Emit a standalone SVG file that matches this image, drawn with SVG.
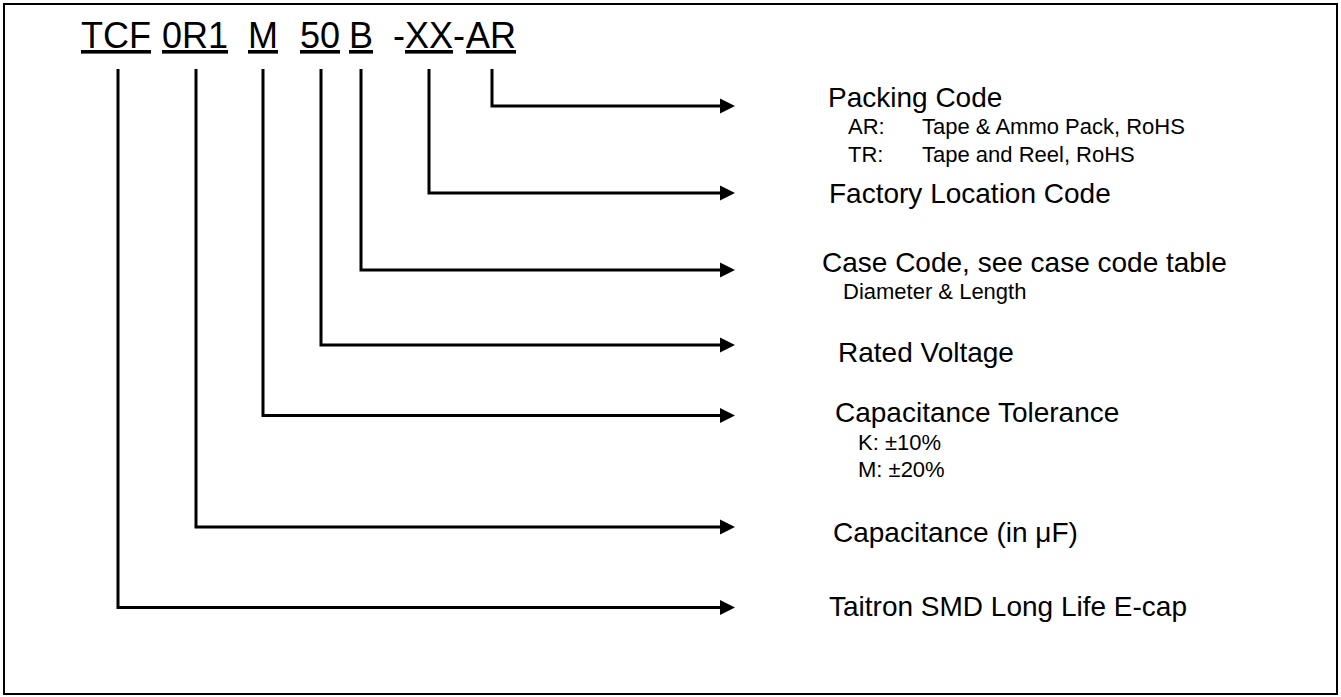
<svg xmlns="http://www.w3.org/2000/svg" width="1341" height="697" viewBox="0 0 1341 697">
<style>
text{font-family:"Liberation Sans",Arial,sans-serif;fill:#000}
.title{font-size:36px}
.u{text-decoration:underline}
.lbl{font-size:28px}
.sub{font-size:22px}
.conn{fill:none;stroke:#000;stroke-width:3;marker-end:url(#arr)}
</style>
<defs>
<marker id="arr" markerUnits="userSpaceOnUse" markerWidth="16" markerHeight="16" refX="0" refY="7.5" orient="auto" viewBox="0 0 16 15">
<path d="M0,0 L15,7.5 L0,15 z" fill="#000"/>
</marker>
</defs>
<rect x="4" y="4" width="1333" height="690" fill="#fff" stroke="#000" stroke-width="2"/>
<g id="part-number">
<text class="title" y="48"><tspan class="u" x="81">TCF</tspan><tspan class="u" x="162">0R1</tspan><tspan class="u" x="248">M</tspan><tspan class="u" x="300">50</tspan><tspan class="u" x="349">B</tspan><tspan x="393">-</tspan><tspan class="u" x="405">XX</tspan><tspan x="453">-</tspan><tspan class="u" x="466">AR</tspan></text>
</g>
<g id="connectors">
<path class="conn" d="M118,69 V607.5 H720"/>
<path class="conn" d="M196,69 V527 H720"/>
<path class="conn" d="M263,69 V415.5 H720"/>
<path class="conn" d="M321,69 V345 H720"/>
<path class="conn" d="M361,69 V270 H720"/>
<path class="conn" d="M429,69 V193 H720"/>
<path class="conn" d="M492,69 V106 H720"/>
</g>
<g id="packing-code">
<text class="lbl" x="828" y="107">Packing Code</text>
<text class="sub" x="848" y="134">AR:</text>
<text class="sub" x="922" y="134">Tape &amp; Ammo Pack, RoHS</text>
<text class="sub" x="848" y="162">TR:</text>
<text class="sub" x="922" y="162">Tape and Reel, RoHS</text>
</g>
<g id="factory-location">
<text class="lbl" x="829" y="203">Factory Location Code</text>
</g>
<g id="case-code">
<text class="lbl" x="822" y="272">Case Code, see case code table</text>
<text class="sub" x="843" y="299">Diameter &amp; Length</text>
</g>
<g id="rated-voltage">
<text class="lbl" x="838" y="362">Rated Voltage</text>
</g>
<g id="cap-tolerance">
<text class="lbl" x="835" y="422">Capacitance Tolerance</text>
<text class="sub" x="858" y="450">K: ±10%</text>
<text class="sub" x="858" y="477">M: ±20%</text>
</g>
<g id="capacitance">
<text class="lbl" x="833" y="542">Capacitance (in μF)</text>
</g>
<g id="series">
<text class="lbl" x="829" y="616">Taitron SMD Long Life E-cap</text>
</g>
</svg>
